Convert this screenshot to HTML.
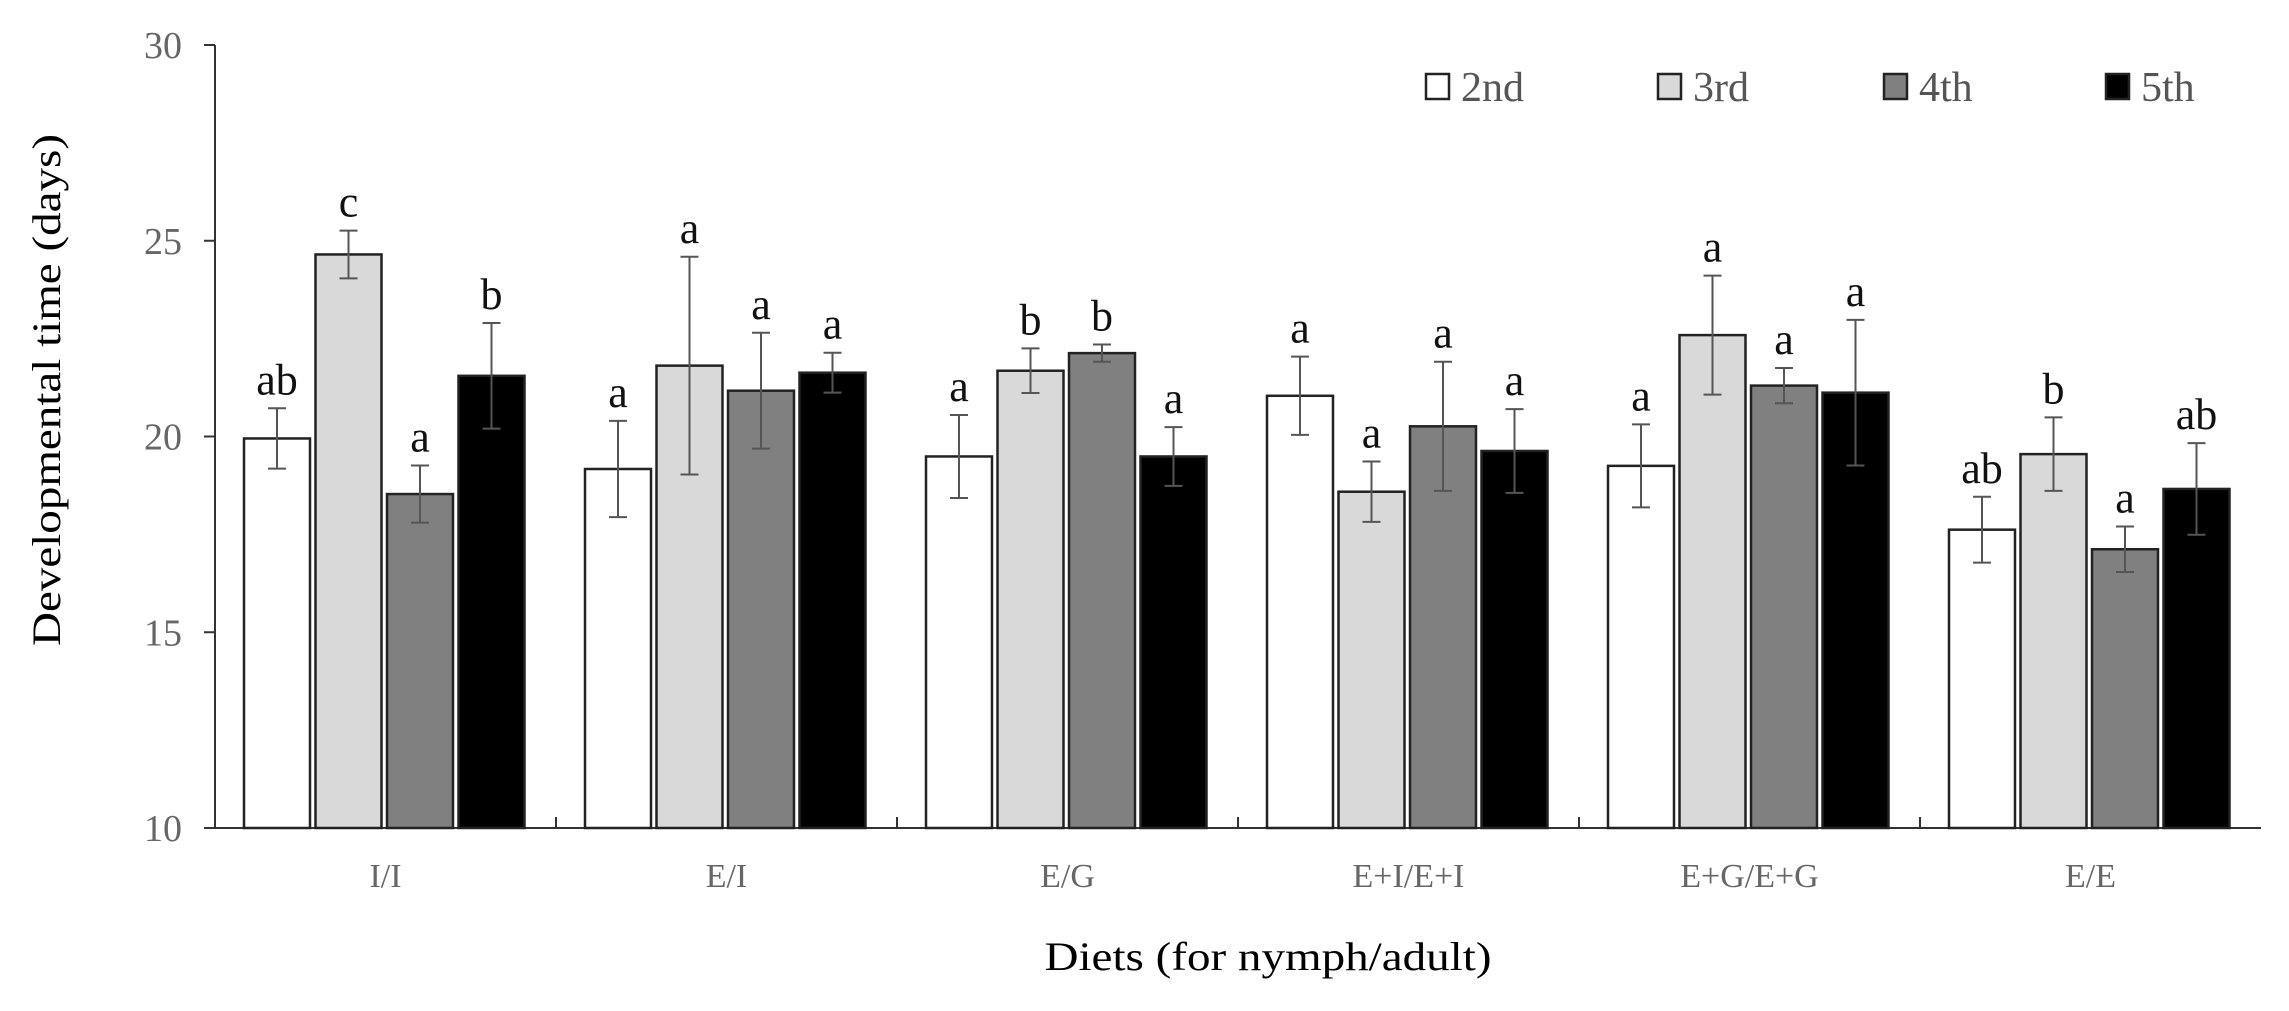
<!DOCTYPE html>
<html><head><meta charset="utf-8"><style>
html,body{margin:0;padding:0;background:#fff;}
svg{display:block;font-family:"Liberation Serif",serif;}
</style></head><body>
<svg id="chart" width="2289" height="1011" viewBox="0 0 2289 1011" xmlns="http://www.w3.org/2000/svg">
<g id="axes"></g>
<g id="bars"></g>
<g id="legend"></g>
<text transform="translate(60,390) rotate(-90)" text-anchor="middle" font-size="40" fill="#000" textLength="512" lengthAdjust="spacingAndGlyphs">Developmental time (days)</text>
<text x="1268" y="970" text-anchor="middle" font-size="40" fill="#000" textLength="447" lengthAdjust="spacingAndGlyphs">Diets (for nymph/adult)</text>
</svg>
<script>
const categories = ["I/I","E/I","E/G","E+I/E+I","E+G/E+G","E/E"];
const seriesNames = ["2nd","3rd","4th","5th"];
const s2nd = [19.95,19.17,19.49,21.04,19.25,17.62];
const s3rd = [24.65,21.81,21.68,18.59,22.59,19.55];
const s4th = [18.53,21.17,22.13,20.26,21.30,17.12];
const s5th = [21.55,21.63,19.49,19.63,21.12,18.66];
const e2nd = [0.77,1.23,1.06,1.00,1.06,0.84];
const e3rd = [0.61,2.78,0.57,0.77,1.52,0.94];
const e4th = [0.73,1.48,0.22,1.65,0.45,0.58];
const e5th = [1.35,0.51,0.75,1.07,1.86,1.17];
const l2nd = ["ab","a","a","a","a","ab"];
const l3rd = ["c","a","b","a","a","b"];
const l4th = ["a","a","b","a","a","a"];
const l5th = ["b","a","a","a","a","ab"];
const yTicks = [10,15,20,25,30];

const NS="http://www.w3.org/2000/svg";
const X0=215, X1=2261, Y0=828, Y1=45, YMIN=10, YMAX=30;
const fills=["#ffffff","#d9d9d9","#808080","#000000"];
const groupW=(X1-X0)/categories.length;
function yScale(v){return Y0-(v-YMIN)/(YMAX-YMIN)*(Y0-Y1);}
function groupX(i){return X0+i*groupW;}
function barX(i,s){return groupX(i)+29+s*71.5;}
const BW=66;
function mk(tag,attrs,parent){const e=document.createElementNS(NS,tag);for(const k in attrs)e.setAttribute(k,attrs[k]);parent.appendChild(e);return e;}

const axes=document.getElementById('axes');
let el=mk('line',{x1:X0,y1:Y1,x2:X0,y2:Y0,stroke:'#333','stroke-width':2},axes);


el=mk('line',{x1:X0,y1:Y0,x2:X1,y2:Y0,stroke:'#333','stroke-width':2},axes);


yTicks.forEach(t=>{
  const y=yScale(t);
  let tk=mk('line',{x1:X0-11,y1:y,x2:X0,y2:y,stroke:'#333','stroke-width':2},axes);
  
  
  let tx=mk('text',{x:X0-33,y:y+13,'text-anchor':'end','font-size':38,fill:'#666'},axes);
  tx.textContent=t;
  
  
});
for(let i=1;i<categories.length;i++){
  const x=groupX(i);
  let tk=mk('line',{x1:x,y1:Y0-11,x2:x,y2:Y0,stroke:'#333','stroke-width':2},axes);
  
  
}
categories.forEach((c,i)=>{
  let tx=mk('text',{x:groupX(i)+groupW/2,y:887,'text-anchor':'middle','font-size':34,fill:'#666'},axes);
  tx.textContent=c;
  
  
});

const bars=document.getElementById('bars');
const vals=[s2nd,s3rd,s4th,s5th], errs=[e2nd,e3rd,e4th,e5th], lets=[l2nd,l3rd,l4th,l5th];
categories.forEach((c,i)=>{
  for(let s=0;s<4;s++){
    const v=vals[s][i], e=errs[s][i];
    const x=barX(i,s), y=yScale(v);
    let r=mk('rect',{x:x,y:y,width:BW,height:Y0-y,fill:fills[s],stroke:'#222','stroke-width':2.5},bars);
    
    
    const cx=x+BW/2, yt=yScale(v+e), yb=yScale(v-e);
    let g=mk('path',{d:`M${cx},${yt}V${yb}M${cx-9},${yt}H${cx+9}M${cx-9},${yb}H${cx+9}`,stroke:'#555','stroke-width':2,fill:'none'},bars);
    
    
    let t=mk('text',{x:cx,y:yt-14,'text-anchor':'middle','font-size':44,fill:'#111'},bars);
    t.textContent=lets[s][i];
    
    
  }
});

const legend=document.getElementById('legend');
const legX=[1426,1658,1884,2106];
seriesNames.forEach((n,s)=>{
  let b=mk('rect',{x:legX[s],y:74,width:23,height:25,fill:fills[s],stroke:'#222','stroke-width':2.5},legend);
  
  
  let t=mk('text',{x:legX[s]+35,y:101,'font-size':42,fill:'#555'},legend);
  t.textContent=n;
  
  
});
</script>
</body></html>
